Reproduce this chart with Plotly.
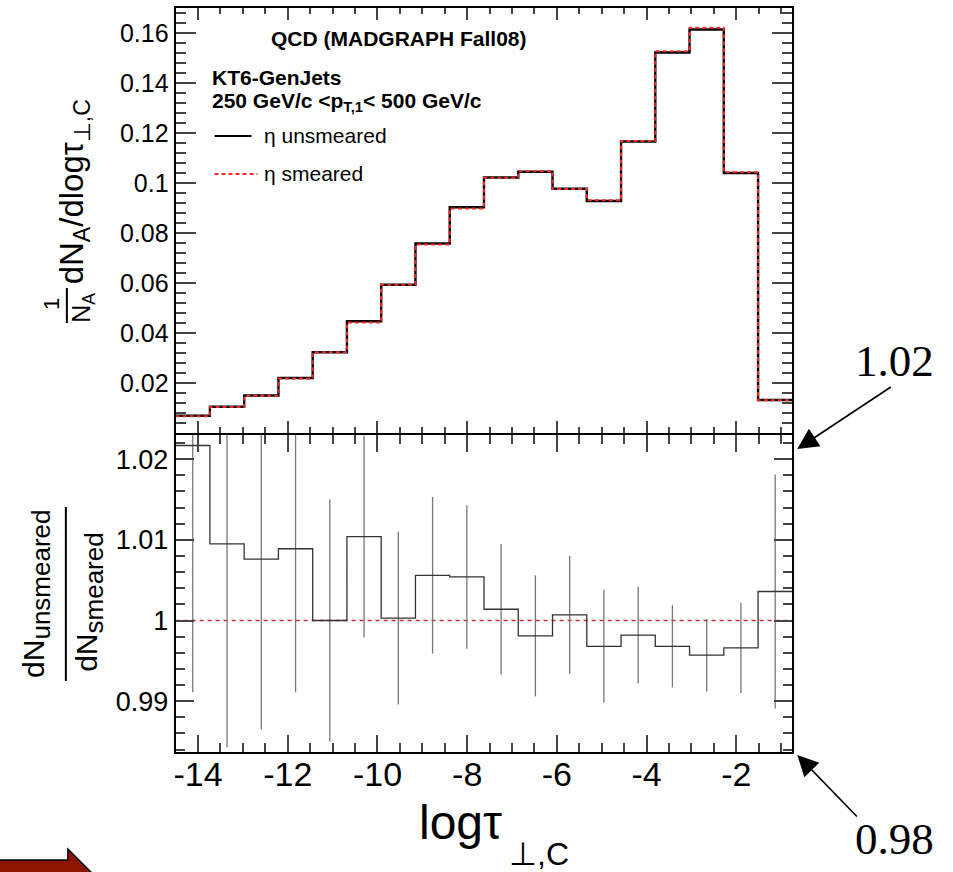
import plotly.graph_objects as go

# ---------------- data ----------------
bin_edges = [-14.500, -13.736, -12.972, -12.208, -11.444, -10.681, -9.917, -9.153,
             -8.389, -7.625, -6.861, -6.097, -5.333, -4.569, -3.806, -3.042,
             -2.278, -1.514, -0.750]

dist_unsmeared = [0.0069, 0.0105, 0.0150, 0.0220, 0.0323, 0.0447, 0.0593, 0.0758, 0.0903,
                  0.1022, 0.1045, 0.0977, 0.0928, 0.1166, 0.1522, 0.1614, 0.1040, 0.0132]
dist_smeared = [0.00675, 0.01040, 0.01489, 0.02181, 0.03230, 0.04424, 0.05928, 0.07538, 0.08982,
                0.10206, 0.10470, 0.09763, 0.09310, 0.11681, 0.15269, 0.16210, 0.10435, 0.01315]

ratio = [1.0217, 1.0095, 1.0076, 1.0089, 1.0000, 1.0104, 1.0003, 1.0056, 1.0054,
         1.0014, 0.9981, 1.0007, 0.9968, 0.9982, 0.9968, 0.9957, 0.9966, 1.0036]
ratio_err = [0.0306, 0.0252, 0.0211, 0.0178, 0.0150, 0.0125, 0.0107, 0.0097, 0.0089,
             0.0081, 0.0075, 0.0073, 0.0070, 0.0060, 0.0051, 0.0045, 0.0056, 0.0145]
ratio_reference = 1.0

x_tick_vals = [-14, -12, -10, -8, -6, -4, -2]
x_tick_text = ["-14", "-12", "-10", "-8", "-6", "-4", "-2"]
top_y_tick_vals = [0.02, 0.04, 0.06, 0.08, 0.10, 0.12, 0.14, 0.16]
top_y_tick_text = ["0.02", "0.04", "0.06", "0.08", "0.1", "0.12", "0.14", "0.16"]
bot_y_tick_vals = [0.99, 1.00, 1.01, 1.02]
bot_y_tick_text = ["0.99", "1", "1.01", "1.02"]

# ---------------- helpers ----------------
W, H = 953, 872


def px(x):
    return x / W


def py(y):
    return 1 - y / H


bin_centers = [(a + b) / 2 for a, b in zip(bin_edges[:-1], bin_edges[1:])]

FONT = "Liberation Sans, Arial, Helvetica, sans-serif"
SERIF = "Liberation Serif, Times New Roman, serif"
TICKC = "#444"

fig = go.Figure()

# top panel histograms
fig.add_trace(go.Scatter(
    x=bin_edges, y=dist_unsmeared + [dist_unsmeared[-1]], mode="lines",
    line=dict(color="black", width=2.4, shape="hv"), xaxis="x", yaxis="y",
    name="η unsmeared"))
fig.add_trace(go.Scatter(
    x=bin_edges, y=dist_smeared + [dist_smeared[-1]], mode="lines",
    line=dict(color="#ee2a2a", width=2, shape="hv", dash="4px,3px"), xaxis="x", yaxis="y",
    name="η smeared"))

# bottom panel ratio
fig.add_trace(go.Scatter(
    x=[bin_edges[0], bin_edges[-1]], y=[ratio_reference, ratio_reference], mode="lines",
    line=dict(color="#d03030", width=1.6, dash="4px,4px"), xaxis="x2", yaxis="y2"))
fig.add_trace(go.Scatter(
    x=bin_centers, y=ratio, mode="markers",
    marker=dict(size=1, color="rgba(0,0,0,0)"),
    error_y=dict(type="data", array=ratio_err, visible=True, width=0, thickness=1.3, color="#777"),
    xaxis="x2", yaxis="y2"))
fig.add_trace(go.Scatter(
    x=bin_edges, y=ratio + [ratio[-1]], mode="lines",
    line=dict(color="#333", width=1.3, shape="hv"), xaxis="x2", yaxis="y2"))

common = dict(showline=True, linecolor="black", linewidth=2, mirror="ticks", ticks="inside",
              tickcolor=TICKC, tickwidth=1.5, showgrid=False, zeroline=False)

xdom = [px(174), px(792)]
fig.update_layout(
    width=W, height=H, margin=dict(l=0, r=0, t=0, b=0),
    paper_bgcolor="white", plot_bgcolor="white", showlegend=False,
    font=dict(family=FONT, color="black"),
    xaxis=dict(domain=xdom, range=[bin_edges[0], bin_edges[-1]], anchor="y",
               tickmode="array", tickvals=x_tick_vals, showticklabels=False, ticklen=12,
               minor=dict(ticks="inside", ticklen=6, dtick=0.5, tick0=-14, tickcolor=TICKC, tickwidth=1.5),
               **common),
    yaxis=dict(domain=[py(433), py(8)], range=[0, 0.1700], anchor="x",
               tickmode="array", tickvals=top_y_tick_vals, ticktext=top_y_tick_text, ticklen=20,
               tickfont=dict(size=25),
               minor=dict(ticks="inside", ticklen=10, dtick=0.004, tick0=0, tickcolor=TICKC, tickwidth=1.5),
               **common),
    xaxis2=dict(domain=xdom, range=[bin_edges[0], bin_edges[-1]], anchor="y2",
                tickmode="array", tickvals=x_tick_vals, ticktext=x_tick_text, ticklen=17,
                tickfont=dict(size=34), ticklabelstandoff=-9,
                minor=dict(ticks="inside", ticklen=9, dtick=0.5, tick0=-14, tickcolor=TICKC, tickwidth=1.5),
                **common),
    yaxis2=dict(domain=[py(752), py(435)], range=[0.9837, 1.0230], anchor="x2",
                tickmode="array", tickvals=bot_y_tick_vals, ticktext=bot_y_tick_text, ticklen=18,
                tickfont=dict(size=27),
                minor=dict(ticks="inside", ticklen=9, dtick=0.002, tick0=1.0, tickcolor=TICKC, tickwidth=1.5),
                **common),
)

ann = []
shapes = []


def text(x, y, t, size, **kw):
    d = dict(x=px(x), y=py(y), xref="paper", yref="paper", text=t, showarrow=False,
             font=dict(size=size, family=kw.pop("family", FONT), color="black"))
    d.update(kw)
    ann.append(d)


# legend / labels inside top panel
text(268, 38, "<b>QCD (MADGRAPH Fall08)</b>", 21, xanchor="left", yanchor="middle")
text(208, 77, "<b>KT6-GenJets</b>", 21, xanchor="left", yanchor="middle")
text(208, 102, "<b>250 GeV/c &lt;p<sub>T,1</sub>&lt; 500 GeV/c</b>", 21, xanchor="left", yanchor="middle")
text(261, 136, "η unsmeared", 21, xanchor="left", yanchor="middle")
text(261, 174, "η smeared", 21, xanchor="left", yanchor="middle")
shapes.append(dict(type="line", xref="paper", yref="paper", x0=px(213), x1=px(250), y0=py(136), y1=py(136),
                   line=dict(color="black", width=2)))
shapes.append(dict(type="line", xref="paper", yref="paper", x0=px(213), x1=px(256), y0=py(174), y1=py(174),
                   line=dict(color="#ee2a2a", width=2, dash="4px,3px")))

# top y title  (1/N_A dN_A/dlogτ_⊥,C)
text(49, 304, "1", 22, textangle=-90, xanchor="center", yanchor="middle")
shapes.append(dict(type="line", xref="paper", yref="paper", x0=px(65), x1=px(65), y0=py(288), y1=py(323),
                   line=dict(color="black", width=2)))
text(81, 308, "N<sub>A</sub>", 25, textangle=-90, xanchor="center", yanchor="middle")
text(72, 286, "dN<sub>A</sub>/dlogτ<sub>⊥,C</sub>", 33, textangle=-90, xanchor="center", yanchor="bottom")

# bottom y title
text(34, 594, "dN<sub><span style='font-size:26px'>unsmeared</span></sub>", 30, textangle=-90,
     xanchor="center", yanchor="middle")
shapes.append(dict(type="line", xref="paper", yref="paper", x0=px(64), x1=px(64), y0=py(507), y1=py(681),
                   line=dict(color="black", width=2)))
text(87, 602, "dN<sub><span style='font-size:26px'>smeared</span></sub>", 30, textangle=-90,
     xanchor="center", yanchor="middle")

# x title
text(416, 822, "logτ", 48, xanchor="left", yanchor="middle")
text(506, 854, "⊥,C", 32, xanchor="left", yanchor="middle")

# 1.02 / 0.98 annotations with arrows
text(894, 361, "1.02", 45, family=SERIF, xanchor="center", yanchor="middle")
text(894, 839, "0.98", 45, family=SERIF, xanchor="center", yanchor="middle")
ann.append(dict(x=px(797), y=py(449), xref="paper", yref="paper", text="", showarrow=True,
                ax=95, ay=-63, axref="pixel", ayref="pixel", arrowhead=2, arrowsize=2.6,
                arrowwidth=1.6, arrowcolor="black", standoff=0))
ann.append(dict(x=px(797), y=py(755), xref="paper", yref="paper", text="", showarrow=True,
                ax=61, ay=63, axref="pixel", ayref="pixel", arrowhead=2, arrowsize=2.6,
                arrowwidth=1.6, arrowcolor="black", standoff=0))

# dark red block arrow at bottom-left
path = "M {},{} L {},{} L {},{} L {},{} L {},{} L {},{} L {},{} Z".format(
    px(-5), py(860), px(66), py(860), px(66), py(849), px(100), py(883),
    px(66), py(917), px(66), py(906), px(-5), py(906))
shapes.append(dict(type="path", xref="paper", yref="paper", path=path,
                   fillcolor="#8c1500", line=dict(color="black", width=1.5)))

fig.update_layout(annotations=ann, shapes=shapes)
fig.write_html("out.html", config={"displayModeBar": False},
               post_script="document.body.style.margin='0px';document.body.style.overflow='hidden';")
